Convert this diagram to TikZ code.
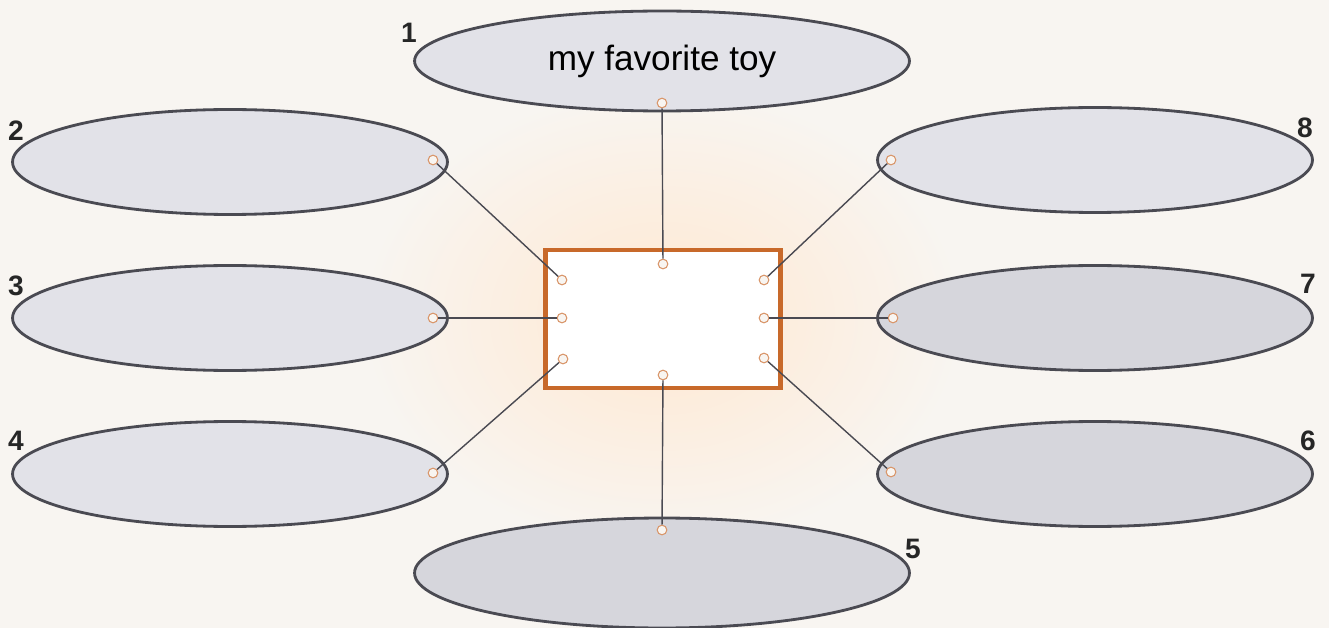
\documentclass[tikz,border=0pt]{standalone}
\usepackage{fontspec}
\setmainfont{Liberation Sans}
\usetikzlibrary{shapes.geometric}
\definecolor{rimgray}{HTML}{4A4A52}
\definecolor{bubble}{HTML}{E2E2E8}
\definecolor{bubbledark}{HTML}{D6D6DC}
\definecolor{boxorange}{HTML}{C8692A}
\definecolor{paper}{HTML}{F8F5F1}
\tikzset{
  bubble/.style={ellipse, draw=rimgray, line width=1.6pt, fill=bubble, inner sep=0pt},
  numlabel/.style={font=\fontsize{16}{16}\selectfont\bfseries, text=black!85},
  pin/.style={circle, draw=boxorange!70, fill=paper, line width=0.6pt, minimum size=5.5pt, inner sep=0pt},
  wire/.style={draw=rimgray, line width=0.8pt}
}
\begin{document}
\begin{tikzpicture}[x=0.02cm, y=-0.02cm]
  % paper and glow
  \fill[paper] (0,0) rectangle (1329,628);
  \shade[inner color=orange!18, outer color=paper] (662,318) ellipse (300 and 230);
  \useasboundingbox (0,0) rectangle (1329,628);
  % Bubbles
  \node[bubble, minimum width=9.9cm, minimum height=2.0cm] (e1) at (662,61) {\fontsize{20}{20}\selectfont my favorite toy};
  \node[bubble, minimum width=8.7cm, minimum height=2.1cm] (e2) at (230,162) {};
  \node[bubble, minimum width=8.7cm, minimum height=2.1cm] (e3) at (230,318) {};
  \node[bubble, minimum width=8.7cm, minimum height=2.1cm] (e4) at (230,474) {};
  \node[bubble, fill=bubbledark, minimum width=9.9cm, minimum height=2.2cm] (e5) at (662,573) {};
  \node[bubble, fill=bubbledark, minimum width=8.7cm, minimum height=2.1cm] (e6) at (1095,474) {};
  \node[bubble, fill=bubbledark, minimum width=8.7cm, minimum height=2.1cm] (e7) at (1095,318) {};
  \node[bubble, minimum width=8.7cm, minimum height=2.1cm] (e8) at (1095,160) {};
  % Centre box
  \node[draw=boxorange, line width=2.4pt, fill=white, minimum width=4.7cm, minimum height=2.76cm, inner sep=0pt] (box) at (663,319) {};
  % Numbers
  \node[numlabel] (n1) at (409,33) {1};
  \node[numlabel] (n2) at (16,131) {2};
  \node[numlabel] (n3) at (16,286) {3};
  \node[numlabel] (n4) at (16,441) {4};
  \node[numlabel] (n5) at (913,549) {5};
  \node[numlabel] (n6) at (1308,441) {6};
  \node[numlabel] (n7) at (1308,284) {7};
  \node[numlabel] (n8) at (1305,128) {8};
  % Pins on bubbles
  \node[pin] (p1) at (662,103) {};
  \node[pin] (p2) at (433,160) {};
  \node[pin] (p3) at (433,318) {};
  \node[pin] (p4) at (433,473) {};
  \node[pin] (p5) at (662,530) {};
  \node[pin] (p6) at (891,472) {};
  \node[pin] (p7) at (893,318) {};
  \node[pin] (p8) at (891,160) {};
  % Pins in box
  \node[pin] (b1) at (663,264) {};
  \node[pin] (b2) at (562,280) {};
  \node[pin] (b3) at (562,318) {};
  \node[pin] (b4) at (563,359) {};
  \node[pin] (b5) at (663,375) {};
  \node[pin] (b6) at (764,358) {};
  \node[pin] (b7) at (764,318) {};
  \node[pin] (b8) at (764,280) {};
  % Wires
  \foreach \i in {1,...,8}
    \draw[wire] (p\i) -- (b\i);
\end{tikzpicture}
\end{document}
